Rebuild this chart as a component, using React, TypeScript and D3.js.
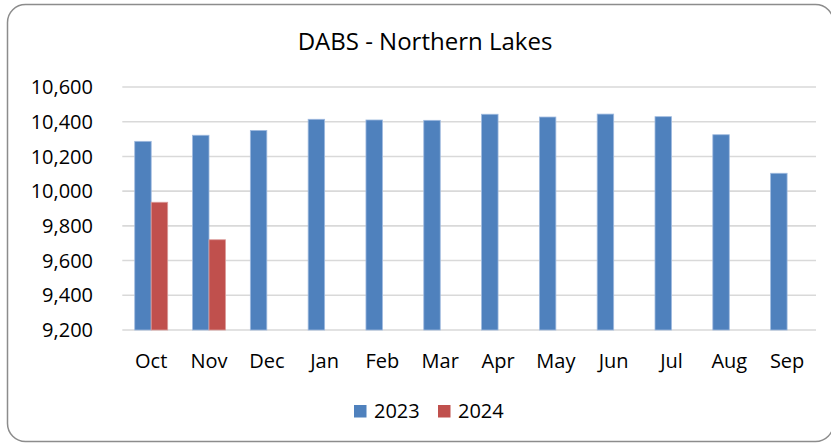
import React from "react";
import * as d3 from "d3";

const months = ["Oct", "Nov", "Dec", "Jan", "Feb", "Mar", "Apr", "May", "Jun", "Jul", "Aug", "Sep"];
const seriesNames = ["2023", "2024"];
const values2023 = [10287, 10322, 10350, 10414, 10410, 10408, 10443, 10427, 10444, 10429, 10325, 10103];
const values2024: (number | null)[] = [9936, 9720, null, null, null, null, null, null, null, null, null, null];
const yTicks = [9200, 9400, 9600, 9800, 10000, 10200, 10400, 10600];
const colors = ["#4F81BD", "#C0504D"];
const strokes = ["#9FBADF", "#DB9C9A"];

const W = 831;
const H = 443;
const FONT = "'Open Sans', sans-serif";

export default function App() {
  const plot = { left: 122.3, right: 816, top: 87, bottom: 330 };
  const x0 = d3
    .scaleBand<string>()
    .domain(months)
    .range([plot.left, plot.right])
    .paddingInner(0.43)
    .paddingOuter(0.215);
  const x1 = d3.scaleBand<string>().domain(seriesNames).range([0, x0.bandwidth()]);
  const y = d3.scaleLinear().domain([9200, 10600]).range([plot.bottom, plot.top]);
  const fmt = d3.format(",");
  const data = [values2023, values2024];

  return (
    <svg
      width={W}
      height={H}
      style={{ position: "fixed", left: 0, top: 0, background: "#fff" }}
      fontFamily={FONT}
    >
      <rect x={0} y={0} width={W} height={H} fill="#fff" />
      <rect x={7.5} y={4.5} width={826} height={437} rx={18} ry={18} fill="#fff" stroke="#8c8c8c" strokeWidth={1.5} />
      <text x={425} y={50} textAnchor="middle" fontSize={24} fill="#000">
        DABS - Northern Lakes
      </text>
      {yTicks.map((t) => (
        <g key={t}>
          <line x1={plot.left} x2={plot.right} y1={y(t)} y2={y(t)} stroke="#d9d9d9" strokeWidth={1.6} />
          <text x={93} y={y(t)} dy="0.36em" textAnchor="end" fontSize={20} fill="#000">
            {fmt(t)}
          </text>
        </g>
      ))}
      {data.map((vals, si) =>
        vals.map((v, i) =>
          v == null ? null : (
            <rect
              key={`${si}-${i}`}
              x={(x0(months[i]) as number) + (x1(seriesNames[si]) as number)}
              y={y(v)}
              width={x1.bandwidth()}
              height={y(9200) - y(v)}
              fill={colors[si]}
              stroke={strokes[si]}
              strokeWidth={0.8}
            />
          )
        )
      )}
      {months.map((m) => (
        <text
          key={m}
          x={(x0(m) as number) + x0.bandwidth() / 2}
          y={368}
          textAnchor="middle"
          fontSize={20}
          fill="#000"
        >
          {m}
        </text>
      ))}
      {seriesNames.map((s, i) => {
        const lx = [354, 438][i];
        return (
          <g key={s}>
            <rect x={lx} y={405} width={12.5} height={12.5} fill={colors[i]} />
            <text x={lx + 20} y={418} fontSize={20} fill="#000">
              {s}
            </text>
          </g>
        );
      })}
    </svg>
  );
}
